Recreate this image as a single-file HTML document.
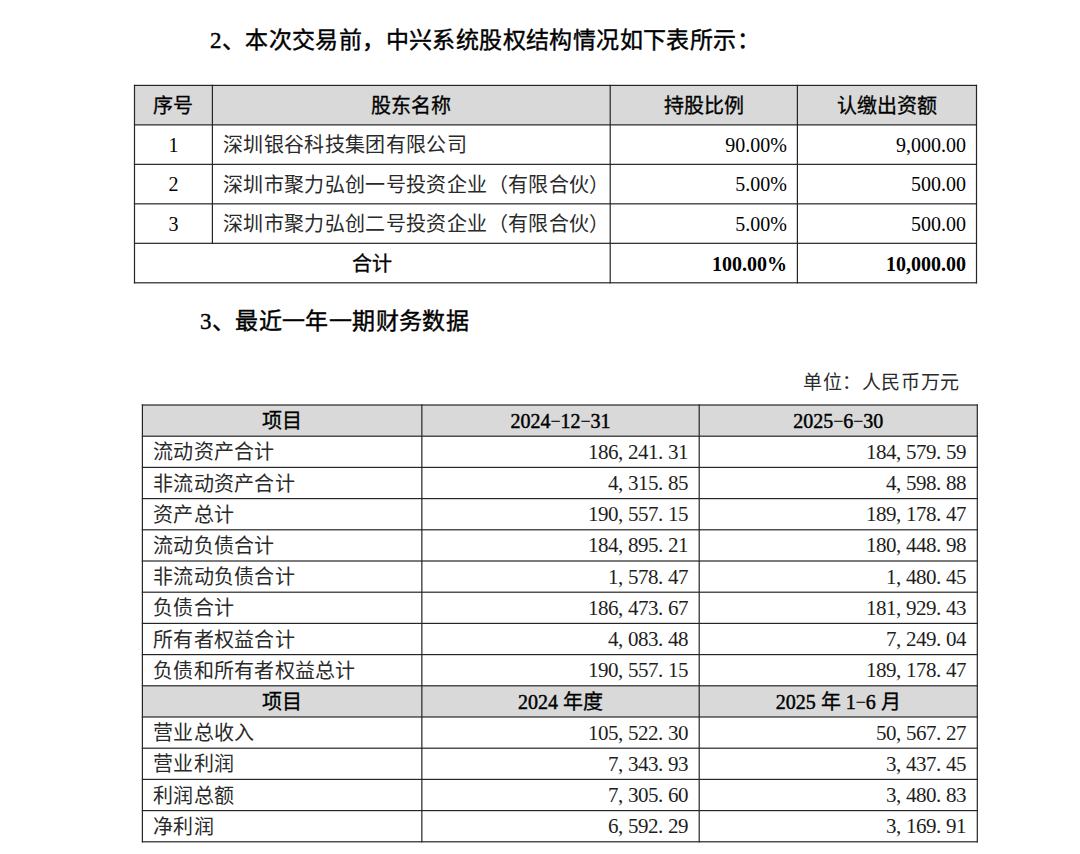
<!DOCTYPE html>
<html lang="zh-CN"><head><meta charset="utf-8"><title>doc</title>
<style>
html,body{margin:0;padding:0;background:#fff}
body{position:relative;width:1080px;height:854px;overflow:hidden;font-family:"Liberation Serif",serif;color:#000}
.l{position:absolute}
.g{position:absolute;left:0;top:0}
.t,.tb,.ti{position:absolute;white-space:nowrap;height:30px;line-height:30px;font-size:20px}
.tb{font-weight:normal;-webkit-text-stroke:0.3px #000}
.n{font-weight:bold;-webkit-text-stroke:0}
.ti{font-size:23px;letter-spacing:0.4px;font-weight:normal;-webkit-text-stroke:0.4px #000}
.c1{letter-spacing:0.35px;color:#2a2a2a}
.c2{letter-spacing:0.25px;color:#2a2a2a}
.d{font-size:21px;letter-spacing:-0.5px;color:#1e1e1e}
.hd{-webkit-text-stroke:0.45px #000}
.m{display:inline-block;width:10px;text-align:center;font-size:18px;-webkit-text-stroke:0.15px #000;vertical-align:1px}
.u{font-size:19px;letter-spacing:0.6px;color:#2a2a2a}
.p{display:inline-block;width:10px;text-align:left}
</style></head><body>
<svg class="g" width="1080" height="854" viewBox="0 0 1080 854"><g fill="#d9d9d9"><rect x="134.50" y="85.40" width="842.00" height="39.48"/><rect x="142.40" y="405.00" width="834.90" height="31.20"/><rect x="142.40" y="685.80" width="834.90" height="31.20"/></g><g fill="#262626"><rect x="133.90" y="84.80" width="843.20" height="1.2"/><rect x="133.90" y="124.28" width="843.20" height="1.2"/><rect x="133.90" y="163.76" width="843.20" height="1.2"/><rect x="133.90" y="203.24" width="843.20" height="1.2"/><rect x="133.90" y="242.72" width="843.20" height="1.2"/><rect x="133.90" y="282.20" width="843.20" height="1.2"/><rect x="133.90" y="84.80" width="1.2" height="198.60"/><rect x="211.80" y="84.80" width="1.2" height="159.12"/><rect x="609.60" y="84.80" width="1.2" height="198.60"/><rect x="796.80" y="84.80" width="1.2" height="198.60"/><rect x="975.90" y="84.80" width="1.2" height="198.60"/><rect x="141.80" y="404.40" width="836.10" height="1.2"/><rect x="141.80" y="435.60" width="836.10" height="1.2"/><rect x="141.80" y="466.80" width="836.10" height="1.2"/><rect x="141.80" y="498.00" width="836.10" height="1.2"/><rect x="141.80" y="529.20" width="836.10" height="1.2"/><rect x="141.80" y="560.40" width="836.10" height="1.2"/><rect x="141.80" y="591.60" width="836.10" height="1.2"/><rect x="141.80" y="622.80" width="836.10" height="1.2"/><rect x="141.80" y="654.00" width="836.10" height="1.2"/><rect x="141.80" y="685.20" width="836.10" height="1.2"/><rect x="141.80" y="716.40" width="836.10" height="1.2"/><rect x="141.80" y="747.60" width="836.10" height="1.2"/><rect x="141.80" y="778.80" width="836.10" height="1.2"/><rect x="141.80" y="810.00" width="836.10" height="1.2"/><rect x="141.80" y="841.20" width="836.10" height="1.2"/><rect x="141.80" y="404.40" width="1.2" height="438.00"/><rect x="421.25" y="404.40" width="1.2" height="438.00"/><rect x="698.60" y="404.40" width="1.2" height="438.00"/><rect x="976.70" y="404.40" width="1.2" height="438.00"/></g></svg>
<div class="ti" style="left:210px;top:26.0px;">2、本次交易前，中兴系统股权结构情况如下表所示：</div>
<div class="ti" style="left:200px;top:307.0px;">3、最近一年一期财务数据</div>
<div class="tb" style="left:134.5px;width:77.9px;top:91.14px;text-align:center;">序号</div>
<div class="tb" style="left:212.4px;width:397.80000000000007px;top:91.14px;text-align:center;">股东名称</div>
<div class="tb" style="left:610.2px;width:187.19999999999993px;top:91.14px;text-align:center;">持股比例</div>
<div class="tb" style="left:797.4px;width:179.10000000000002px;top:91.14px;text-align:center;">认缴出资额</div>
<div class="t" style="left:134.5px;width:77.9px;top:129.62px;text-align:center;">1</div>
<div class="t c1" style="left:223px;top:130.22px;">深圳银谷科技集团有限公司</div>
<div class="t" style="left:610.2px;width:176.79999999999995px;top:129.62px;text-align:right;">90.00%</div>
<div class="t" style="left:797.4px;width:168.60000000000002px;top:129.62px;text-align:right;">9,000.00</div>
<div class="t" style="left:134.5px;width:77.9px;top:169.10000000000002px;text-align:center;">2</div>
<div class="t c1" style="left:223px;top:169.70000000000002px;">深圳市聚力弘创一号投资企业（有限合伙）</div>
<div class="t" style="left:610.2px;width:176.79999999999995px;top:169.10000000000002px;text-align:right;">5.00%</div>
<div class="t" style="left:797.4px;width:168.60000000000002px;top:169.10000000000002px;text-align:right;">500.00</div>
<div class="t" style="left:134.5px;width:77.9px;top:208.57999999999998px;text-align:center;">3</div>
<div class="t c1" style="left:223px;top:209.17999999999998px;">深圳市聚力弘创二号投资企业（有限合伙）</div>
<div class="t" style="left:610.2px;width:176.79999999999995px;top:208.57999999999998px;text-align:right;">5.00%</div>
<div class="t" style="left:797.4px;width:168.60000000000002px;top:208.57999999999998px;text-align:right;">500.00</div>
<div class="tb" style="left:134.5px;width:475.70000000000005px;top:249.05999999999995px;text-align:center;">合计</div>
<div class="tb n" style="left:610.2px;width:176.79999999999995px;top:249.05999999999995px;text-align:right;">100.00%</div>
<div class="tb n" style="left:797.4px;width:168.60000000000002px;top:249.05999999999995px;text-align:right;">10,000.00</div>
<div class="t u" style="left:803px;top:368.0px;">单位：人民币万元</div>
<div class="tb" style="left:142.4px;width:279.45000000000005px;top:405.6px;text-align:center;">项目</div>
<div class="tb" style="left:421.85px;width:277.35px;top:405.6px;text-align:center;"><span class=hd>2024<span class=m>&#8722;</span>12<span class=m>&#8722;</span>31</span></div>
<div class="tb" style="left:699.2px;width:278.0999999999999px;top:405.6px;text-align:center;"><span class=hd>2025<span class=m>&#8722;</span>6<span class=m>&#8722;</span>30</span></div>
<div class="t c2" style="left:153px;top:437.4px;">流动资产合计</div>
<div class="t d" style="left:421.85px;width:266.15px;top:436.79999999999995px;text-align:right;">186<span class="p">,</span>241<span class="p">.</span>31</div>
<div class="t d" style="left:699.2px;width:266.79999999999995px;top:436.79999999999995px;text-align:right;">184<span class="p">,</span>579<span class="p">.</span>59</div>
<div class="t c2" style="left:153px;top:468.6px;">非流动资产合计</div>
<div class="t d" style="left:421.85px;width:266.15px;top:468.0px;text-align:right;">4<span class="p">,</span>315<span class="p">.</span>85</div>
<div class="t d" style="left:699.2px;width:266.79999999999995px;top:468.0px;text-align:right;">4<span class="p">,</span>598<span class="p">.</span>88</div>
<div class="t c2" style="left:153px;top:499.80000000000007px;">资产总计</div>
<div class="t d" style="left:421.85px;width:266.15px;top:499.20000000000005px;text-align:right;">190<span class="p">,</span>557<span class="p">.</span>15</div>
<div class="t d" style="left:699.2px;width:266.79999999999995px;top:499.20000000000005px;text-align:right;">189<span class="p">,</span>178<span class="p">.</span>47</div>
<div class="t c2" style="left:153px;top:531.0px;">流动负债合计</div>
<div class="t d" style="left:421.85px;width:266.15px;top:530.4px;text-align:right;">184<span class="p">,</span>895<span class="p">.</span>21</div>
<div class="t d" style="left:699.2px;width:266.79999999999995px;top:530.4px;text-align:right;">180<span class="p">,</span>448<span class="p">.</span>98</div>
<div class="t c2" style="left:153px;top:562.2px;">非流动负债合计</div>
<div class="t d" style="left:421.85px;width:266.15px;top:561.6px;text-align:right;">1<span class="p">,</span>578<span class="p">.</span>47</div>
<div class="t d" style="left:699.2px;width:266.79999999999995px;top:561.6px;text-align:right;">1<span class="p">,</span>480<span class="p">.</span>45</div>
<div class="t c2" style="left:153px;top:593.4px;">负债合计</div>
<div class="t d" style="left:421.85px;width:266.15px;top:592.8px;text-align:right;">186<span class="p">,</span>473<span class="p">.</span>67</div>
<div class="t d" style="left:699.2px;width:266.79999999999995px;top:592.8px;text-align:right;">181<span class="p">,</span>929<span class="p">.</span>43</div>
<div class="t c2" style="left:153px;top:624.6px;">所有者权益合计</div>
<div class="t d" style="left:421.85px;width:266.15px;top:624.0px;text-align:right;">4<span class="p">,</span>083<span class="p">.</span>48</div>
<div class="t d" style="left:699.2px;width:266.79999999999995px;top:624.0px;text-align:right;">7<span class="p">,</span>249<span class="p">.</span>04</div>
<div class="t c2" style="left:153px;top:655.8000000000001px;">负债和所有者权益总计</div>
<div class="t d" style="left:421.85px;width:266.15px;top:655.2px;text-align:right;">190<span class="p">,</span>557<span class="p">.</span>15</div>
<div class="t d" style="left:699.2px;width:266.79999999999995px;top:655.2px;text-align:right;">189<span class="p">,</span>178<span class="p">.</span>47</div>
<div class="tb" style="left:142.4px;width:279.45000000000005px;top:687.4px;text-align:center;">项目</div>
<div class="tb" style="left:421.85px;width:277.35px;top:687.4px;text-align:center;"><span class=hd>2024</span> 年度</div>
<div class="tb" style="left:699.2px;width:278.0999999999999px;top:687.4px;text-align:center;"><span class=hd>2025</span> 年 <span class=hd>1<span class=m>&#8722;</span>6</span> 月</div>
<div class="t c2" style="left:153px;top:718.2px;">营业总收入</div>
<div class="t d" style="left:421.85px;width:266.15px;top:717.6px;text-align:right;">105<span class="p">,</span>522<span class="p">.</span>30</div>
<div class="t d" style="left:699.2px;width:266.79999999999995px;top:717.6px;text-align:right;">50<span class="p">,</span>567<span class="p">.</span>27</div>
<div class="t c2" style="left:153px;top:749.4px;">营业利润</div>
<div class="t d" style="left:421.85px;width:266.15px;top:748.8px;text-align:right;">7<span class="p">,</span>343<span class="p">.</span>93</div>
<div class="t d" style="left:699.2px;width:266.79999999999995px;top:748.8px;text-align:right;">3<span class="p">,</span>437<span class="p">.</span>45</div>
<div class="t c2" style="left:153px;top:780.6px;">利润总额</div>
<div class="t d" style="left:421.85px;width:266.15px;top:780.0px;text-align:right;">7<span class="p">,</span>305<span class="p">.</span>60</div>
<div class="t d" style="left:699.2px;width:266.79999999999995px;top:780.0px;text-align:right;">3<span class="p">,</span>480<span class="p">.</span>83</div>
<div class="t c2" style="left:153px;top:811.8px;">净利润</div>
<div class="t d" style="left:421.85px;width:266.15px;top:811.1999999999999px;text-align:right;">6<span class="p">,</span>592<span class="p">.</span>29</div>
<div class="t d" style="left:699.2px;width:266.79999999999995px;top:811.1999999999999px;text-align:right;">3<span class="p">,</span>169<span class="p">.</span>91</div>
</body></html>
